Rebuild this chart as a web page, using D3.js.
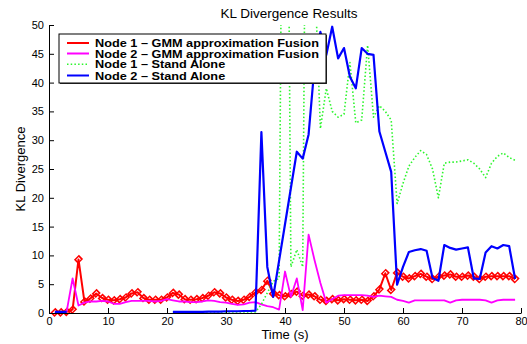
<!DOCTYPE html>
<html><head><meta charset="utf-8">
<script src="https://cdn.jsdelivr.net/npm/d3@7"></script>
<style>html,body{margin:0;padding:0;background:#fff}svg{display:block}</style>
</head><body>
<svg id="c" width="527" height="344"></svg>
<script>
const time = [1,2,3,4,5,6,7,8,9,10,11,12,13,14,15,16,17,18,19,20,21,22,23,24,25,26,27,28,29,30,31,32,33,34,35,36,37,38,39,40,41,42,43,44,45,46,47,48,49,50,51,52,53,54,55,56,57,58,59,60,61,62,63,64,65,66,67,68,69,70,71,72,73,74,75,76,77,78,79];
const node1Fusion = [0.1,0.1,0.2,0.6,9.3,2.0,2.5,3.4,2.6,2.3, 2.2,2.4,2.7,3.4,3.6,2.6,2.3,2.3,2.3,2.7, 3.5,3.2,2.4,2.3,2.4,2.6,3.0,3.6,3.4,2.7, 2.3,2.1,2.3,2.8,3.6,4.0,5.6,3.4,3.1,2.9, 3.3,3.7,3.0,3.2,2.9,2.3,2.1,2.4,2.2,2.4, 2.3,2.2,2.3,2.1,2.9,4.1,6.9,4.0,7.0,6.3, 6.0,6.4,6.8,6.3,5.9,6.3,6.5,6.7,6.3,6.3, 6.5,6.3,5.9,6.3,6.4,6.4,6.4,6.4,5.9];
const node2Fusion = [0.1,0.1,0.3,6.0,1.3,1.8,2.0,2.0,2.1,2.0, 1.6,1.6,1.9,2.1,2.1,2.1,2.1,2.0,2.1,2.4, 2.2,2.0,2.0,1.9,1.9,2.0,2.2,2.1,1.9,1.8, 1.6,1.4,1.5,1.8,1.9,1.5,1.2,1.0,0.6,7.2, 2.8,6.0,0.5,13.6,9.2,5.2,1.8,2.4,3.0,3.1, 3.1,3.1,3.1,3.0,2.8,3.0,2.9,2.8,2.3,2.1, 1.8,2.2,2.2,2.2,2.2,2.2,2.2,1.8,2.2,2.3, 2.3,2.3,2.3,2.2,1.8,2.2,2.3,2.3,2.3];
const node1Alone = [null,null,null,null,null,null,null,null,null,null, null,null,null,null,null,null,null,null,null,null, 0.2,0.2,0.2,0.2,0.2,0.2,0.2,0.2,0.2,0.2, 0.2,0.2,0.2,0.2,0.2,1.5,3.5,5.5,6.0,150, 8,11,8,150,60,32,39,35,34,34.5, 43.5,33,33.5,46.5,34,36,35,33.5,19.0,22.5, 25.5,27,28.2,27.5,25,20,26,26.2,26.2,26.4, 26.6,26,25,23.5,26,27.2,27.8,27,26.5];
const node2Alone = [0.2,0.2,0.2,null,null,null,null,null,null,null, null,null,null,null,null,null,null,null,null,null, 0.2,0.2,0.2,0.2,0.2,0.2,0.25,0.25,0.25,0.3, 0.3,0.3,0.35,0.35,0.4,31.4,8.0,2.8,9.1,15.4, 21.7,28.0,26.8,31.0,42.8,48.8,44.8,49.7,44.2,46.0, 41.0,39.0,46.0,45.0,44.8,31.5,28.0,24.5,4.9,8.0, 10.6,10.9,11.1,10.8,6.1,5.6,11.8,11.3,11.0,11.2, 11.4,6.0,5.9,10.5,11.6,11.2,11.8,11.6,5.9];
const xTicks = [0,10,20,30,40,50,60,70,80];
const yTicks = [0,5,10,15,20,25,30,35,40,45,50];
const seriesNames = ["Node 1 \u2013 GMM approximation Fusion","Node 2 \u2013 GMM approximation Fusion","Node 1 \u2013 Stand Alone","Node 2 \u2013 Stand Alone"];

const svg = d3.select("#c");
const F = "'Liberation Sans', Arial, Helvetica, sans-serif";
const x = d3.scaleLinear().domain([0,80]).range([49,521]);
const y = d3.scaleLinear().domain([0,50]).range([313,25]);

svg.append("defs").append("clipPath").attr("id","clip")
  .append("rect").attr("x",49).attr("y",25).attr("width",480).attr("height",300);

const styles = [
  {color:"#ff0000", width:2, dash:null},
  {color:"#ff00ff", width:1.8, dash:null},
  {color:"#2cf52c", width:1.6, dash:"1.5,2.2"},
  {color:"#0000ff", width:2.2, dash:null}
];
const data = [node1Fusion,node2Fusion,node1Alone,node2Alone];

const g = svg.append("g").attr("clip-path","url(#clip)");
data.forEach((arr,i)=>{
  const pts = time.map((t,j)=>({t, v:arr[j]}));
  const line = d3.line().defined(d=>d.v!==null).x(d=>x(d.t)).y(d=>y(d.v));
  const p = g.append("path").datum(pts).attr("d",line).attr("fill","none")
    .attr("stroke",styles[i].color).attr("stroke-width",styles[i].width).attr("stroke-linejoin","round");
  if (styles[i].dash) p.attr("stroke-dasharray",styles[i].dash);
  if (i===0) {
    g.selectAll(".dm").data(pts).enter().append("path")
      .attr("d", d3.symbol().type(d3.symbolSquare).size(20))
      .attr("transform",d=>`translate(${x(d.t)},${y(d.v)}) rotate(45) scale(1,1.2)`)
      .attr("fill","none").attr("stroke","#ff0000").attr("stroke-width",1.4);
  }
});

// axes
const xAxis = d3.axisBottom(x).tickValues(xTicks).tickSize(-5).tickPadding(4).tickSizeOuter(0);
const yAxis = d3.axisLeft(y).tickValues(yTicks).tickSize(-5).tickPadding(5).tickSizeOuter(0);
const gx = svg.append("g").attr("transform","translate(0,313)").call(xAxis);
const gy = svg.append("g").attr("transform","translate(49,0)").call(yAxis);
[gx,gy].forEach(a=>{
  a.select(".domain").attr("stroke","#000").attr("stroke-width",1);
  a.selectAll(".tick line").attr("stroke","#000");
  a.selectAll(".tick text").attr("font-family",F).attr("font-size","11px").attr("fill","#000");
});

// title & labels
svg.append("text").attr("x",289).attr("y",18).attr("text-anchor","middle")
  .attr("font-family",F).attr("font-size","13.5px").text("KL Divergence Results");
svg.append("text").attr("x",285).attr("y",339).attr("text-anchor","middle")
  .attr("font-family",F).attr("font-size","13px").text("Time (s)");
svg.append("text").attr("transform","translate(25,169) rotate(-90)").attr("text-anchor","middle")
  .attr("font-family",F).attr("font-size","13px").text("KL Divergence");

// legend
const lg = svg.append("g");
lg.append("rect").attr("x",60).attr("y",35).attr("width",267).attr("height",49).attr("fill","#333");
lg.append("rect").attr("x",59).attr("y",34).attr("width",267).attr("height",49)
  .attr("fill","#fff").attr("stroke","#000").attr("stroke-width",1);
const rowsY = [43,53.5,64.2,75.5];
seriesNames.forEach((nm,i)=>{
  const l = lg.append("line").attr("x1",67).attr("x2",89).attr("y1",rowsY[i]).attr("y2",rowsY[i])
    .attr("stroke",styles[i].color).attr("stroke-width",2);
  if (styles[i].dash) l.attr("stroke-dasharray",styles[i].dash).attr("stroke-width",1.6);
  const t = lg.append("text").attr("x",95).attr("y",rowsY[i]+4).attr("font-family",F)
    .attr("font-weight","bold").attr("font-size","10.6px").text(nm);
  const w = t.node().getComputedTextLength();
  t.attr("textLength", w*1.2).attr("lengthAdjust","spacingAndGlyphs");
});
</script>
</body></html>
